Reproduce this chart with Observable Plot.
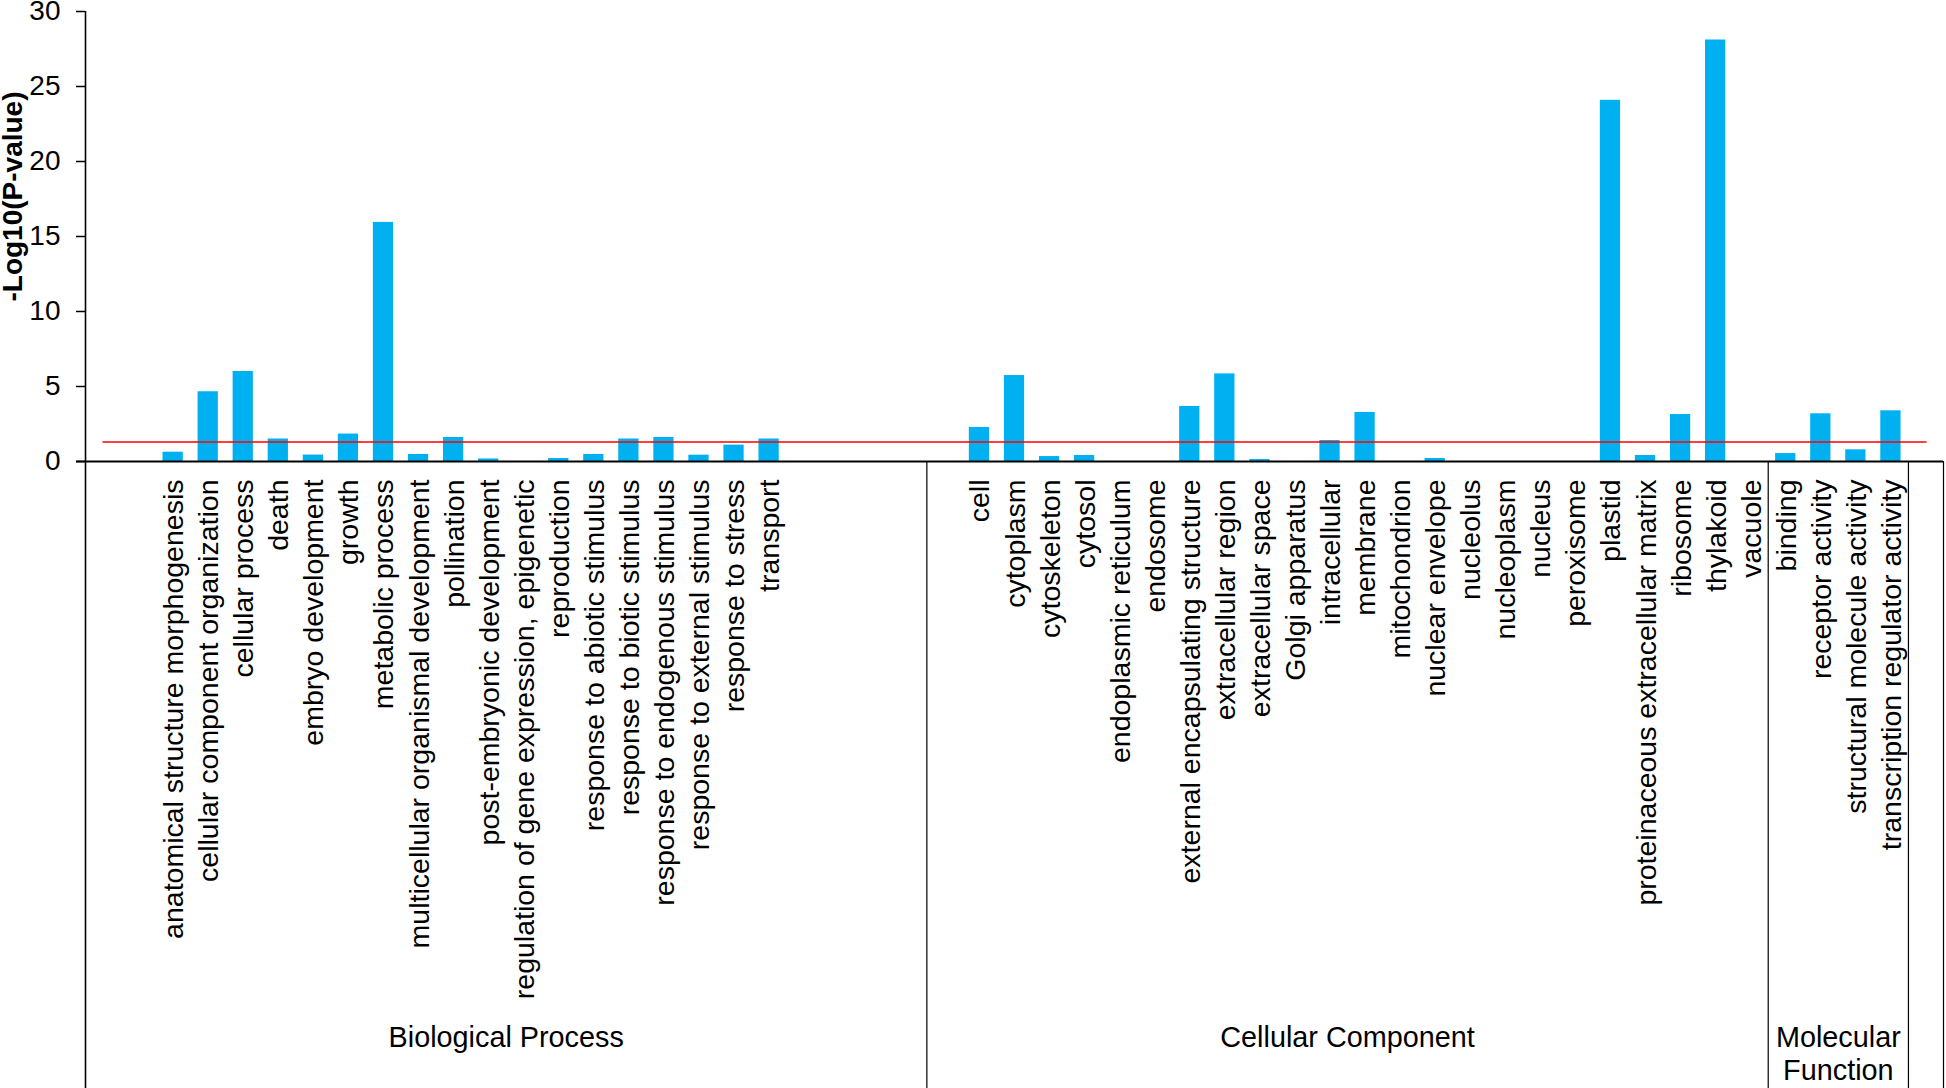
<!DOCTYPE html>
<html>
<head>
<meta charset="utf-8">
<script src="https://cdn.jsdelivr.net/npm/d3@7"></script>
<script src="https://cdn.jsdelivr.net/npm/@observablehq/plot@0.6"></script>
<style>
  html, body { margin: 0; padding: 0; background: #ffffff; }
  #chart svg { display: block; }
</style>
</head>
<body>
<div id="chart"></div>
<script>
// ---------------- data ----------------
const groupNames = ["Biological Process", "Cellular Component", "Molecular\nFunction", ""];

const bpCategories = ["", "",
  "anatomical structure morphogenesis", "cellular component organization", "cellular process",
  "death", "embryo development", "growth", "metabolic process",
  "multicellular organismal development", "pollination", "post-embryonic development",
  "regulation of gene expression, epigenetic", "reproduction", "response to abiotic stimulus",
  "response to biotic stimulus", "response to endogenous stimulus", "response to external stimulus",
  "response to stress", "transport", "", "", "", ""];
const bpValues = [null, null,
  0.62, 4.65, 6.0, 1.5, 0.43, 1.83, 15.94, 0.47, 1.6, 0.17, 0, 0.2, 0.47, 1.5, 1.6, 0.42, 1.09, 1.5,
  null, null, null, null];

const ccCategories = ["",
  "cell", "cytoplasm", "cytoskeleton", "cytosol", "endoplasmic reticulum", "endosome",
  "external encapsulating structure", "extracellular region", "extracellular space",
  "Golgi apparatus", "intracellular", "membrane", "mitochondrion", "nuclear envelope",
  "nucleolus", "nucleoplasm", "nucleus", "peroxisome", "plastid",
  "proteinaceous extracellular matrix", "ribosome", "thylakoid", "vacuole"];
const ccValues = [null,
  2.27, 5.73, 0.33, 0.4, 0, 0, 3.67, 5.84, 0.13, 0, 1.4, 3.27, 0, 0.2, 0, 0, 0, 0, 24.08, 0.4, 3.13, 28.1, 0];

const mfCategories = ["binding", "receptor activity", "structural molecule activity", "transcription regulator activity"];
const mfValues = [0.53, 3.18, 0.78, 3.38];

const tailCategories = [""];
const tailValues = [null];

const threshold = 1.3;          // -log10(0.05)
const yTicks = [0, 5, 10, 15, 20, 25, 30];
const yTitle = "-Log10(P-value)";

// ---------------- build table ----------------
const groupCats = [bpCategories, ccCategories, mfCategories, tailCategories];
const groupVals = [bpValues, ccValues, mfValues, tailValues];
const slots = [];
const spans = [];
let idx = 0;
groupCats.forEach((cats, g) => {
  const start = idx;
  cats.forEach((c, k) => { slots.push({i: idx, name: c, value: groupVals[g][k], group: g}); idx++; });
  spans.push({name: groupNames[g], start, end: idx});
});

// ---------------- layout ----------------
const W = 1946, H = 1088;
const mTop = 11, mLeft = 85, mRight = 3, mBottom = 627;
const font = "'Liberation Sans', Arial, Helvetica, sans-serif";

const chart = Plot.plot({
  width: W,
  height: H,
  marginTop: mTop,
  marginLeft: mLeft,
  marginRight: mRight,
  marginBottom: mBottom,
  style: {fontFamily: font, color: "#000", background: "#fff", overflow: "visible"},
  x: {domain: [0, slots.length], axis: null},
  y: {domain: [0, 30]},
  marks: [
    Plot.rectY(slots.filter(d => d.value > 0), {
      x1: d => d.i, x2: d => d.i + 1, y1: 0, y2: "value",
      fill: "#00B0F0", insetLeft: 7.4, insetRight: 7.4
    }),
    Plot.lineY(slots, {x: d => d.i + 0.5, y: () => threshold, stroke: "#FF0000", strokeWidth: 1.6}),
    Plot.axisY({
      ticks: yTicks, tickSize: 9, tickPadding: 16, fontSize: 28, label: null,
      tickFormat: d => String(d), stroke: "#000", strokeWidth: 1.5, fill: "#000"
    }),
    // y axis line, extended down through the category area
    Plot.ruleX([0], {stroke: "#000", strokeWidth: 1.6, insetBottom: -mBottom}),
    // zero baseline
    Plot.ruleY([0], {stroke: "#000", strokeWidth: 2.2, insetLeft: -9}),
    // group dividers
    Plot.ruleX(spans, {x: "end", y1: () => 0, y2: () => 0, insetBottom: -mBottom, stroke: "#000", strokeWidth: 1.2}),
    // category labels (baseline to the right of the slot centre)
    Plot.text(slots, {
      x: d => d.i + 0.5, text: "name", frameAnchor: "bottom", dx: 10, dy: 18,
      rotate: -90, textAnchor: "end", lineAnchor: "bottom", fontSize: 28.5, fill: "#000"
    }),
    // group labels
    Plot.text(spans, {
      x: d => (d.start + d.end) / 2, text: "name", frameAnchor: "bottom", dy: 562,
      lineAnchor: "top", lineHeight: 1.15, fontSize: 28.8, fill: "#000"
    }),
    // y title
    Plot.text([yTitle], {
      text: d => d, frameAnchor: "top-left", dx: -64, dy: 185, rotate: -90,
      textAnchor: "middle", lineAnchor: "bottom", fontSize: 28, fontWeight: "bold", fill: "#000"
    })
  ]
});

document.getElementById("chart").appendChild(chart);
</script>
</body>
</html>
